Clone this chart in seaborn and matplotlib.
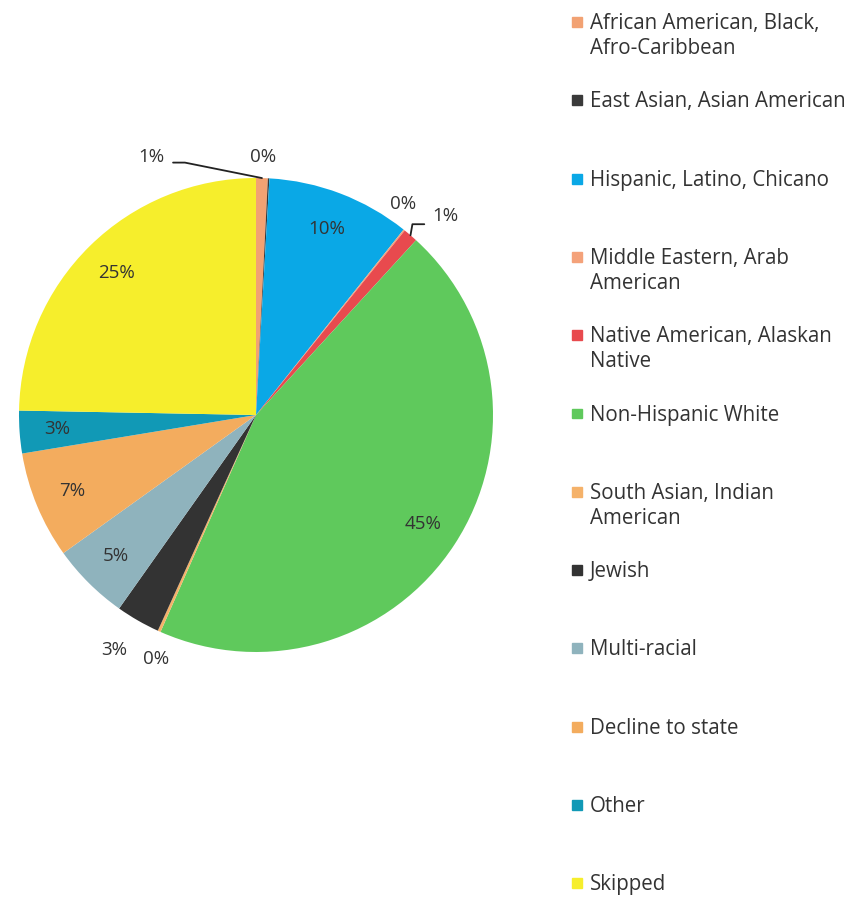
import numpy as np
import matplotlib
matplotlib.use("Agg")
import matplotlib.pyplot as plt
from matplotlib.patches import Rectangle
import seaborn as sns

# Data (percent of respondents)
categories = [
    "African American, Black,\nAfro-Caribbean",
    "East Asian, Asian American",
    "Hispanic, Latino, Chicano",
    "Middle Eastern, Arab\nAmerican",
    "Native American, Alaskan\nNative",
    "Non-Hispanic White",
    "South Asian, Indian\nAmerican",
    "Jewish",
    "Multi-racial",
    "Decline to state",
    "Other",
    "Skipped",
]
shares = [0.8, 0.1, 9.8, 0.1, 1.0, 44.8, 0.2, 3.0, 5.3, 7.3, 2.9, 24.7]
colors = ["#F2A273", "#3A3A3A", "#0AA8E6", "#F4A27A", "#E84A4E", "#5FC95C",
          "#F5B26A", "#333333", "#8FB3BD", "#F3AC5E", "#1199B6", "#F6EE2C"]

sns.set_theme(style="white")
plt.rcParams["font.family"] = ["Open Sans", "DejaVu Sans"]
palette = sns.color_palette(colors)
text_color = "#333333"

fig = plt.figure(figsize=(8.67, 8.97), dpi=100)
W, H = 867, 897
ax = fig.add_axes([19 / W, 245 / H, 474 / W, 474 / H])

wedges, _ = ax.pie(shares, colors=palette, startangle=90, counterclock=False,
                   wedgeprops=dict(linewidth=0))
ax.set_xlim(-1, 1)
ax.set_ylim(-1, 1)
ax.set_aspect("equal")

labels = [f"{round(v):d}%" for v in shares]

# slices whose labels sit outside the pie (data coords of the label)
outside = {0: (-0.44, 1.09), 1: (0.03, 1.09), 3: (0.62, 0.89),
           4: (0.80, 0.84), 6: (-0.42, -1.03), 7: (-0.60, -0.99)}
leaders = {0: (-0.35, 1.065), 4: (0.71, 0.805)}

for i, w in enumerate(wedges):
    mid = np.deg2rad((w.theta1 + w.theta2) / 2)
    if i in outside:
        x, y = outside[i]
        ax.text(x, y, labels[i], ha="center", va="center", fontsize=13.5,
                color=text_color)
        if i in leaders:
            lx, ly = leaders[i]
            ex, ey = np.cos(mid), np.sin(mid)
            cx = lx + (0.05 if lx < ex else -0.05)
            ax.plot([lx, cx, ex], [ly, ly, ey], color="#222222", lw=1.3,
                    clip_on=False)
    else:
        r = 0.84
        ax.text(r * np.cos(mid), r * np.sin(mid), labels[i], ha="center",
                va="center", fontsize=13.5, color=text_color)

# legend on the right, one entry every ~78 px
for i, (name, col) in enumerate(zip(categories, palette)):
    yc = 22 + 78.3 * i
    fig.patches.append(Rectangle((572 / W, 1 - (yc + 5) / H), 10 / W, 10 / H,
                                 transform=fig.transFigure, color=col))
    fig.text(590 / W, 1 - (yc - 9) / H, name, ha="left", va="top",
             fontsize=14.8, color=text_color, linespacing=1.25)

fig.savefig("out.png", dpi=100)
